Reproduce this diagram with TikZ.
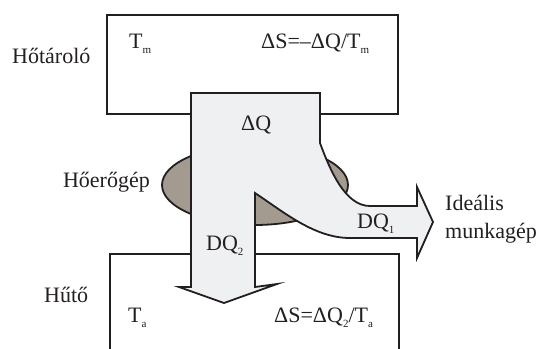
\documentclass[tikz,border=0pt]{standalone}
\usepackage{fontspec}
\setmainfont{Liberation Serif}
\usetikzlibrary{shapes.geometric}
\definecolor{ln}{HTML}{231F20}
\definecolor{flowfill}{HTML}{EFF0F2}
\definecolor{engfill}{HTML}{A39A90}
\newcommand{\subx}[1]{\raisebox{-5pt}{\fontsize{11}{11}\selectfont #1}}
\begin{document}
\begin{tikzpicture}[x=1pt,y=-1pt,
  lbl/.style={inner sep=0pt, anchor=base west, font=\fontsize{22}{22}\selectfont, text=ln},
  boxst/.style={draw=ln, line width=1.8pt, outer sep=0pt, inner sep=0pt, anchor=north west, fill=white},
  outl/.style={draw=ln, line width=1.8pt, line join=miter}]
\useasboundingbox (0,0) rectangle (540,348);
% reservoirs
\node[boxst, minimum width=291pt, minimum height=99pt] (hot) at (107,15) {};
\node[boxst, minimum width=289pt, minimum height=110pt] (cold) at (110,254) {};
% engine
\node[ellipse, draw=ln, line width=1.8pt, fill=engfill, minimum width=186pt, minimum height=80pt, outer sep=0pt, inner sep=0pt] (engine) at (255,185) {};
% heat flow
\draw[outl, fill=flowfill] (191,93) -- (320,93) -- (320,143)
  .. controls (330,170) and (345,206) .. (370,206) -- (417,206) -- (417,187)
  -- (433,222) -- (417,258) -- (417,238) -- (350,238)
  .. controls (315,238) and (285,213) .. (255,193) -- (255,287) -- (277,284)
  -- (224,303) -- (179,287) -- (191,287) -- cycle;
% labels
\node[lbl] (lhot) at (12,63) {Hőtároló};
\node[lbl] (ltm) at (129,48) {T\subx{m}};
\node[lbl] (lshot) at (261,48) {ΔS=–ΔQ/T\subx{m}};
\node[lbl] (ldq) at (241,130) {ΔQ};
\node[lbl, anchor=base east] (leng) at (150,187) {Hőerőgép};
\node[lbl] (ldq1) at (357,228) {DQ\subx{1}};
\node[lbl] (ldq2) at (206,250) {DQ\subx{2}};
\node[lbl] (lid) at (445,210) {Ideális};
\node[lbl] (lmk) at (445,238) {munkagép};
\node[lbl] (lcold) at (44,302) {Hűtő};
\node[lbl] (lta) at (128,322) {T\subx{a}};
\node[lbl] (lscold) at (274,322) {ΔS=ΔQ\subx{2}/T\subx{a}};
\end{tikzpicture}
\end{document}
